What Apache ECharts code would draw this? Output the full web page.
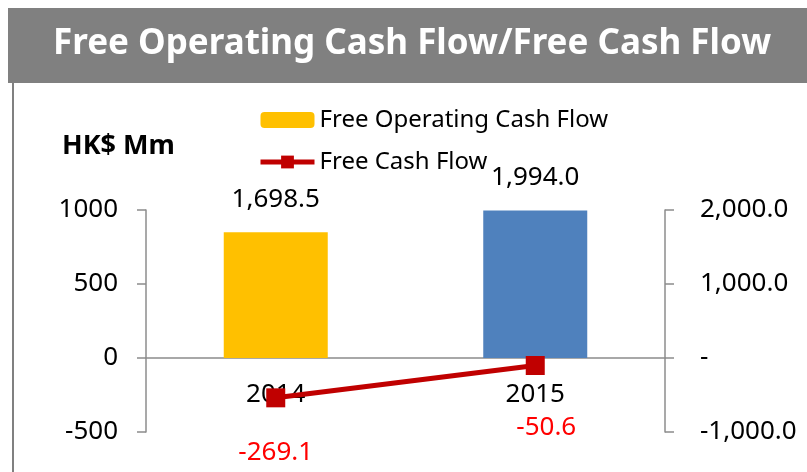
<!DOCTYPE html>
<html>
<head>
<meta charset="utf-8">
<script src="https://cdn.jsdelivr.net/npm/echarts@6/dist/echarts.min.js"></script>
<style>
  html, body { margin: 0; padding: 0; background: #fff; }
  #main { width: 807px; height: 472px; }
</style>
</head>
<body>
<div id="main"></div>
<script>
// 数据
var years = ['2014', '2015'];
var freeOperatingCashFlow = [1698.5, 1994.0];
var freeCashFlow = [-269.1, -50.6];
var barColors = ['#FFC000', '#4F81BD'];
// label placement for the line values (offset x, distance below)
var lineLabelPlace = [[0, 32], [11, 40]];

function fmt1(v) {
    return Number(v).toLocaleString('en-US', { minimumFractionDigits: 1, maximumFractionDigits: 1 });
}

var barData = freeOperatingCashFlow.map(function (v, i) {
    return { value: v, itemStyle: { color: barColors[i] } };
});
var lineData = freeCashFlow.map(function (v, i) {
    return { value: v, label: { offset: [lineLabelPlace[i][0], 0], distance: lineLabelPlace[i][1] } };
});

var font = '"Noto Sans", "Open Sans", sans-serif';
var chart = echarts.init(document.getElementById('main'));
var option = {
    backgroundColor: '#fff',
    animation: false,
    textStyle: { fontFamily: font },
    title: {
        text: 'Free Operating Cash Flow/Free Cash Flow',
        left: 48,
        top: 22,
        textStyle: {
            color: '#fff',
            fontSize: 35,
            fontWeight: 'bold',
            fontFamily: font
        }
    },
    graphic: [
        {
            type: 'rect',
            z: -1,
            shape: { x: 8, y: 8, width: 799, height: 75 },
            style: { fill: '#808080' }
        },
        {
            type: 'line',
            shape: { x1: 13, y1: 83, x2: 13, y2: 472 },
            style: { stroke: '#808080', lineWidth: 2 }
        },
        {
            type: 'text',
            left: 62,
            top: 133,
            style: { text: 'HK$ Mm', fill: '#000', font: 'bold 27px ' + font }
        }
    ],
    legend: {
        orient: 'vertical',
        left: 253,
        top: 103,
        itemWidth: 54,
        itemHeight: 16,
        itemGap: 18,
        textStyle: { fontSize: 24, color: '#000', fontFamily: font },
        data: [
            { name: 'Free Operating Cash Flow' },
            { name: 'Free Cash Flow', lineStyle: { width: 5 } }
        ]
    },
    grid: {
        left: 146,
        right: 142,
        top: 210,
        bottom: 40,
        outerBoundsMode: 'none'
    },
    xAxis: {
        type: 'category',
        data: years,
        offset: -74,
        axisLine: { onZero: false, lineStyle: { color: '#8c8c8c', width: 1.5 } },
        axisTick: { length: 6, lineStyle: { color: '#8c8c8c', width: 1.5 } },
        axisLabel: { color: '#000', fontSize: 26, margin: 24, fontFamily: font }
    },
    yAxis: [
        {
            type: 'value',
            min: -500,
            max: 1000,
            interval: 500,
            splitLine: { show: false },
            axisLine: { show: true, lineStyle: { color: '#8c8c8c', width: 1.5 } },
            axisTick: { show: true, length: 9, lineStyle: { color: '#8c8c8c', width: 1.5 } },
            axisLabel: {
                color: '#000',
                fontSize: 26,
                margin: 28,
                fontFamily: font,
                formatter: function (v) { return String(v); }
            }
        },
        {
            type: 'value',
            min: -1000,
            max: 2000,
            interval: 1000,
            position: 'right',
            splitLine: { show: false },
            axisLine: { show: true, lineStyle: { color: '#8c8c8c', width: 1.5 } },
            axisTick: { show: true, length: 9, lineStyle: { color: '#8c8c8c', width: 1.5 } },
            axisLabel: {
                color: '#000',
                fontSize: 26,
                margin: 35,
                fontFamily: font,
                formatter: function (v) {
                    return v === 0 ? '-' : fmt1(v);
                }
            }
        }
    ],
    series: [
        {
            name: 'Free Operating Cash Flow',
            type: 'bar',
            yAxisIndex: 1,
            barWidth: 104,
            itemStyle: { color: '#FFC000' },
            label: {
                show: true,
                position: 'top',
                distance: 20,
                color: '#000',
                fontSize: 26,
                fontFamily: font,
                formatter: function (p) { return fmt1(p.value); }
            },
            data: barData
        },
        {
            name: 'Free Cash Flow',
            type: 'line',
            yAxisIndex: 0,
            symbol: 'rect',
            symbolSize: 19,
            z: 5,
            itemStyle: { color: '#C00000' },
            lineStyle: { color: '#C00000', width: 5 },
            label: {
                show: true,
                position: 'bottom',
                color: '#FF0000',
                fontSize: 26,
                fontFamily: font,
                formatter: function (p) { return fmt1(p.value); }
            },
            data: lineData
        }
    ]
};
chart.setOption(option);
</script>
</body>
</html>
